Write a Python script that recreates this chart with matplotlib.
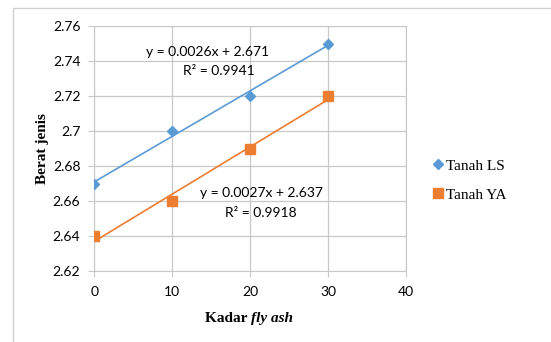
import matplotlib.pyplot as plt
import numpy as np
from matplotlib.patches import Rectangle

# data
kadar = [0, 10, 20, 30]
tanah_ls = [2.67, 2.70, 2.72, 2.75]
tanah_ya = [2.64, 2.66, 2.69, 2.72]
xticks = [0, 10, 20, 30, 40]
yticks = [2.62, 2.64, 2.66, 2.68, 2.70, 2.72, 2.74, 2.76]
ytick_labels = ['2.62', '2.64', '2.66', '2.68', '2.7', '2.72', '2.74', '2.76']

c_ls = '#5B9BD5'
c_ya = '#ED7D31'
sans = 'Lato'
serif = 'Liberation Serif'

fig = plt.figure(figsize=(5.51, 3.42), dpi=100)
fig.patches.append(Rectangle((0.024, -0.1), 1.1, 1.077, transform=fig.transFigure,
                             fill=False, edgecolor='#d0d0d0', linewidth=1.0))
ax = fig.add_axes([0.171, 0.207, 0.566, 0.717])

x = np.array(kadar, dtype=float)
xs = np.array([0, 30.0])
for ys, col, mk, ms, lbl in [(tanah_ls, c_ls, 'D', 5, 'Tanah LS'),
                             (tanah_ya, c_ya, 's', 7, 'Tanah YA')]:
    p = np.polyfit(x, ys, 1)
    ax.plot(xs, np.polyval(p, xs), color=col, linewidth=1.2, zorder=2)
    ax.plot(x, ys, linestyle='none', marker=mk, markersize=ms, color=col, label=lbl, zorder=3)

ax.text(14.5, 2.7450, 'y = 0.0026x + 2.671', ha='center', va='center', fontsize=10, family=sans)
ax.text(16.0, 2.7345, 'R² = 0.9941', ha='center', va='center', fontsize=10, family=sans)
ax.text(21.4, 2.6645, 'y = 0.0027x + 2.637', ha='center', va='center', fontsize=10, family=sans)
ax.text(21.4, 2.6535, 'R² = 0.9918', ha='center', va='center', fontsize=10, family=sans)

ax.set_xlim(0, 40)
ax.set_ylim(2.62, 2.76)
ax.set_xticks(xticks)
ax.set_yticks(yticks)
ax.set_yticklabels(ytick_labels)
ax.grid(True, color='#c8c8c8', linewidth=0.9)
ax.set_axisbelow(True)
for s in ax.spines.values():
    s.set_color('#c8c8c8')
ax.tick_params(axis='both', length=4, color='#c8c8c8', labelsize=10)
ax.tick_params(axis='x', pad=7)
ax.tick_params(axis='y', pad=6)
for t in ax.get_xticklabels() + ax.get_yticklabels():
    t.set_family(sans)

fig.text(0.455, 0.07, 'Kadar ', ha='right', va='center', fontsize=11, fontweight='bold', family=serif)
fig.text(0.455, 0.07, 'fly ash', ha='left', va='center', fontsize=11, fontweight='bold',
         style='italic', family=serif)
ax.set_ylabel('Berat jenis', fontsize=11, fontweight='bold', family=serif, labelpad=3)

leg = ax.legend(loc='center left', bbox_to_anchor=(1.035, 0.37), frameon=False,
                prop={'family': serif, 'size': 11}, handletextpad=0.0, handlelength=1.0,
                labelspacing=1.0)

fig.savefig('out.png', dpi=100)
